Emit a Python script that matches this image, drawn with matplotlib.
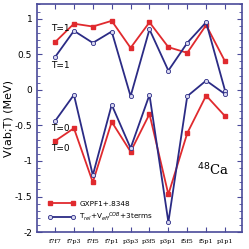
import matplotlib
matplotlib.use("Agg")
import matplotlib.pyplot as plt
from matplotlib.ticker import MultipleLocator

categories = ["f7f7", "f7p3", "f7f5", "f7p1", "p3p3", "p3f5", "p3p1", "f5f5", "f5p1", "p1p1"]
gx_t1 = [0.67, 0.93, 0.89, 0.97, 0.59, 0.95, 0.60, 0.52, 0.91, 0.40]
gx_t0 = [-0.72, -0.54, -1.30, -0.45, -0.87, -0.34, -1.47, -0.61, -0.08, -0.37]
cob_t1 = [0.46, 0.83, 0.66, 0.82, -0.09, 0.85, 0.27, 0.66, 0.95, -0.01]
cob_t0 = [-0.44, -0.07, -1.20, -0.21, -0.82, -0.07, -1.86, -0.09, 0.13, -0.06]

red = "#e02a2e"
blue = "#2b2b85"
spine = "#4a4a9a"

fig = plt.figure(figsize=(2.49, 2.49), dpi=100)
ax = fig.add_axes([0.149, 0.068, 0.823, 0.914])
x = list(range(len(categories)))

ax.plot(x, gx_t1, color=red, lw=1.3, marker="s", ms=2.8, mfc=red, mec=red,
        label="GXPF1+.8348")
ax.plot(x, gx_t0, color=red, lw=1.3, marker="s", ms=2.8, mfc=red, mec=red)
ax.plot(x, cob_t1, color=blue, lw=1.3, marker="o", ms=3, mfc="#d8d8f0", mec=blue, mew=0.6,
        label="T$_{rel}$+V$_{eff}$$^{COB}$+3terms")
ax.plot(x, cob_t0, color=blue, lw=1.3, marker="o", ms=3, mfc="#d8d8f0", mec=blue, mew=0.6)

ax.set_xlim(-0.95, 9.9)
ax.set_ylim(-2, 1.2)
ax.set_xticks(x)
ax.set_xticklabels(categories, family="DejaVu Serif", fontsize=4.6)
ax.set_yticks([-2, -1.5, -1, -0.5, 0, 0.5, 1])
ax.set_yticklabels(["-2", "-1.5", "-1", "-0.5", "0", "0.5", "1"], fontsize=6.5)
ax.yaxis.set_minor_locator(MultipleLocator(0.1))
ax.tick_params(which="both", direction="in", top=True, right=True, color=spine)
ax.tick_params(which="major", length=3.5, width=0.8)
ax.tick_params(which="minor", length=2, width=0.6)
ax.tick_params(axis="x", pad=5)
for s in ax.spines.values():
    s.set_color(spine)
    s.set_linewidth(1.2)

ax.set_ylabel("V(ab;T) (MeV)", fontsize=8, labelpad=1)

ax.text(-0.2, 0.86, "T=1", fontsize=6.5, va="center")
ax.text(-0.2, 0.34, "T=1", fontsize=6.5, va="center")
ax.text(-0.2, -0.54, "T=0", fontsize=6.5, va="center")
ax.text(-0.2, -0.83, "T=0", fontsize=6.5, va="center")
ax.text(7.52, -1.13, "$^{48}$Ca", fontsize=9.5, family="DejaVu Serif", va="center")

ax.legend(loc="lower left", bbox_to_anchor=(0.02, 0.01), frameon=False, fontsize=5.2,
          numpoints=2, handlelength=3.8, handletextpad=0.6, labelspacing=0.55)

fig.savefig("out.png", dpi=100)
